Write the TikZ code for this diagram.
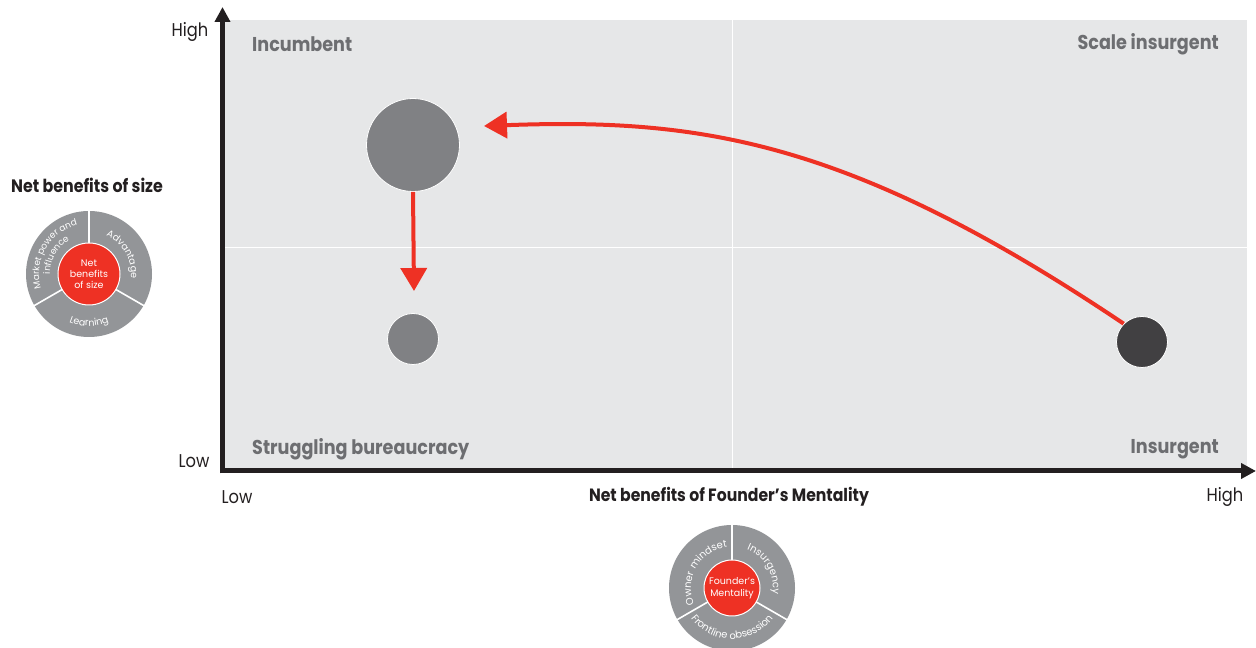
\documentclass[tikz,border=0pt]{standalone}
\usepackage{fontspec}
\setmainfont{Poppins}[FakeStretch=0.88]
\newfontfamily\ringfont{Poppins}
\usetikzlibrary{arrows.meta,decorations.text}
\definecolor{bgray}{HTML}{E6E7E8}
\definecolor{qlab}{HTML}{6D6E71}
\definecolor{bubble}{HTML}{808184}
\definecolor{dark}{HTML}{414042}
\definecolor{bred}{HTML}{EE3124}
\definecolor{ring}{HTML}{939598}
\definecolor{ink}{HTML}{231F20}
\tikzset{
  quad/.style={font=\fontsize{20}{22}\selectfont\bfseries, text=qlab, inner sep=0pt},
  axlab/.style={font=\fontsize{18.5}{20}\selectfont, text=ink, inner sep=0pt},
  axtitle/.style={font=\fontsize{17.8}{20}\selectfont\bfseries, text=ink, inner sep=0pt},
  axisline/.style={line width=5pt, draw=ink, -{Triangle[width=15pt,length=15pt]}},
  redarrow/.style={line width=4pt, draw=bred, -{Triangle[width=26pt,length=23pt]}},
  gridline/.style={draw=white, line width=1pt},
  divider/.style={draw=white, line width=1.6pt},
  centertext/.style={font=\ringfont\fontsize{9.5}{11}\selectfont, text=white, align=center, inner sep=0pt},
}
\newcommand{\ringtxt}[6]{% center, radius, start, end, size, text
  \path[decorate, decoration={text along path, text color=white, text align=center,
    text={|\ringfont\fontsize{#5}{#5}\selectfont|#6}}]
    ([shift={(#3:#2)}]#1) arc[start angle=#3, end angle=#4, radius=#2];}
\begin{document}
\begin{tikzpicture}[x=1pt,y=1pt]
\useasboundingbox (0,0) rectangle (1256,648);
\clip (0,0) rectangle (1256,648);
% plot background
\fill[bgray] (224,180) rectangle (1247,628);
\draw[gridline] (732,180) -- (732,628);
\draw[gridline] (224,400) -- (1247,400);
% axes
\coordinate (ytip) at (222.5,641);
\coordinate (xtip) at (1256,177);
\draw[axisline] (222.5,174.5) -- (ytip);
\draw[axisline] (220,177) -- (xtip);
% axis labels
\node[axlab] (yhigh) at (190,616) {High};
\node[axlab] (ylow) at (194,187) {Low};
\node[axlab] (xlow) at (237,151) {Low};
\node[axlab] (xhigh) at (1225,151) {High};
\node[axtitle] (xtitle) at (729,151) {Net benefits of Founder’s Mentality};
% quadrant labels
\node[quad, anchor=west] (q1) at (252,604) {Incumbent};
\node[quad, anchor=east] (q2) at (1219,604) {Scale insurgent};
\node[quad, anchor=west] (q3) at (252,199) {Struggling bureaucracy};
\node[quad, anchor=east] (q4) at (1219,199) {Insurgent};
% bubbles
\node[circle, fill=bubble, draw=white, line width=0.8pt, minimum size=93pt, inner sep=0pt] (big) at (413,503) {};
\node[circle, fill=bubble, draw=white, line width=0.8pt, minimum size=51pt, inner sep=0pt] (small) at (413,309) {};
\node[circle, fill=dark, draw=white, line width=0.8pt, minimum size=51pt, inner sep=0pt] (ins) at (1142,306) {};
% red arrows
\coordinate (vtip) at (414,357);
\draw[redarrow] (big.south) -- (vtip);
\coordinate (ctip) at (484,522);
\draw[redarrow] (ins.north west) .. controls (850,508) and (700,530) .. (ctip);
% left donut
\node[font=\fontsize{18}{20}\selectfont\bfseries, text=ink, inner sep=0pt] (sizetitle) at (87,463) {Net benefits of size};
\coordinate (L) at (89,374);
\fill[ring] (L) circle[radius=63];
\foreach \a in {90,-30,210} \draw[divider] ([shift={(\a:30)}]L) -- ([shift={(\a:64)}]L);
\node[circle, fill=bred, draw=white, line width=1pt, minimum size=62pt, inner sep=0pt] (Lc) at (L) {};
\node[centertext] (Lct) at (L) {Net\\benefits\\of size};
\ringtxt{L}{42}{82}{-22}{9.5}{Advantage}
\ringtxt{L}{50}{210}{90}{9}{Market power and}
\ringtxt{L}{39}{195}{105}{9}{influence}
\ringtxt{L}{52}{230}{310}{9.5}{Learning}
% bottom donut
\coordinate (B) at (732,60);
\fill[ring] (B) circle[radius=63];
\foreach \a in {90,-30,210} \draw[divider] ([shift={(\a:27)}]B) -- ([shift={(\a:64)}]B);
\node[circle, fill=bred, draw=white, line width=1pt, minimum size=56pt, inner sep=0pt] (Bc) at (B) {};
\node[centertext, font=\ringfont\fontsize{9.5}{12}\selectfont] (Bct) at (B) {Founder’s\\Mentality};
\ringtxt{B}{41}{205}{95}{10}{Owner mindset}
\ringtxt{B}{41}{82}{-22}{10}{Insurgency}
\ringtxt{B}{51}{210}{330}{10}{Frontline obsession}
\end{tikzpicture}
\end{document}
